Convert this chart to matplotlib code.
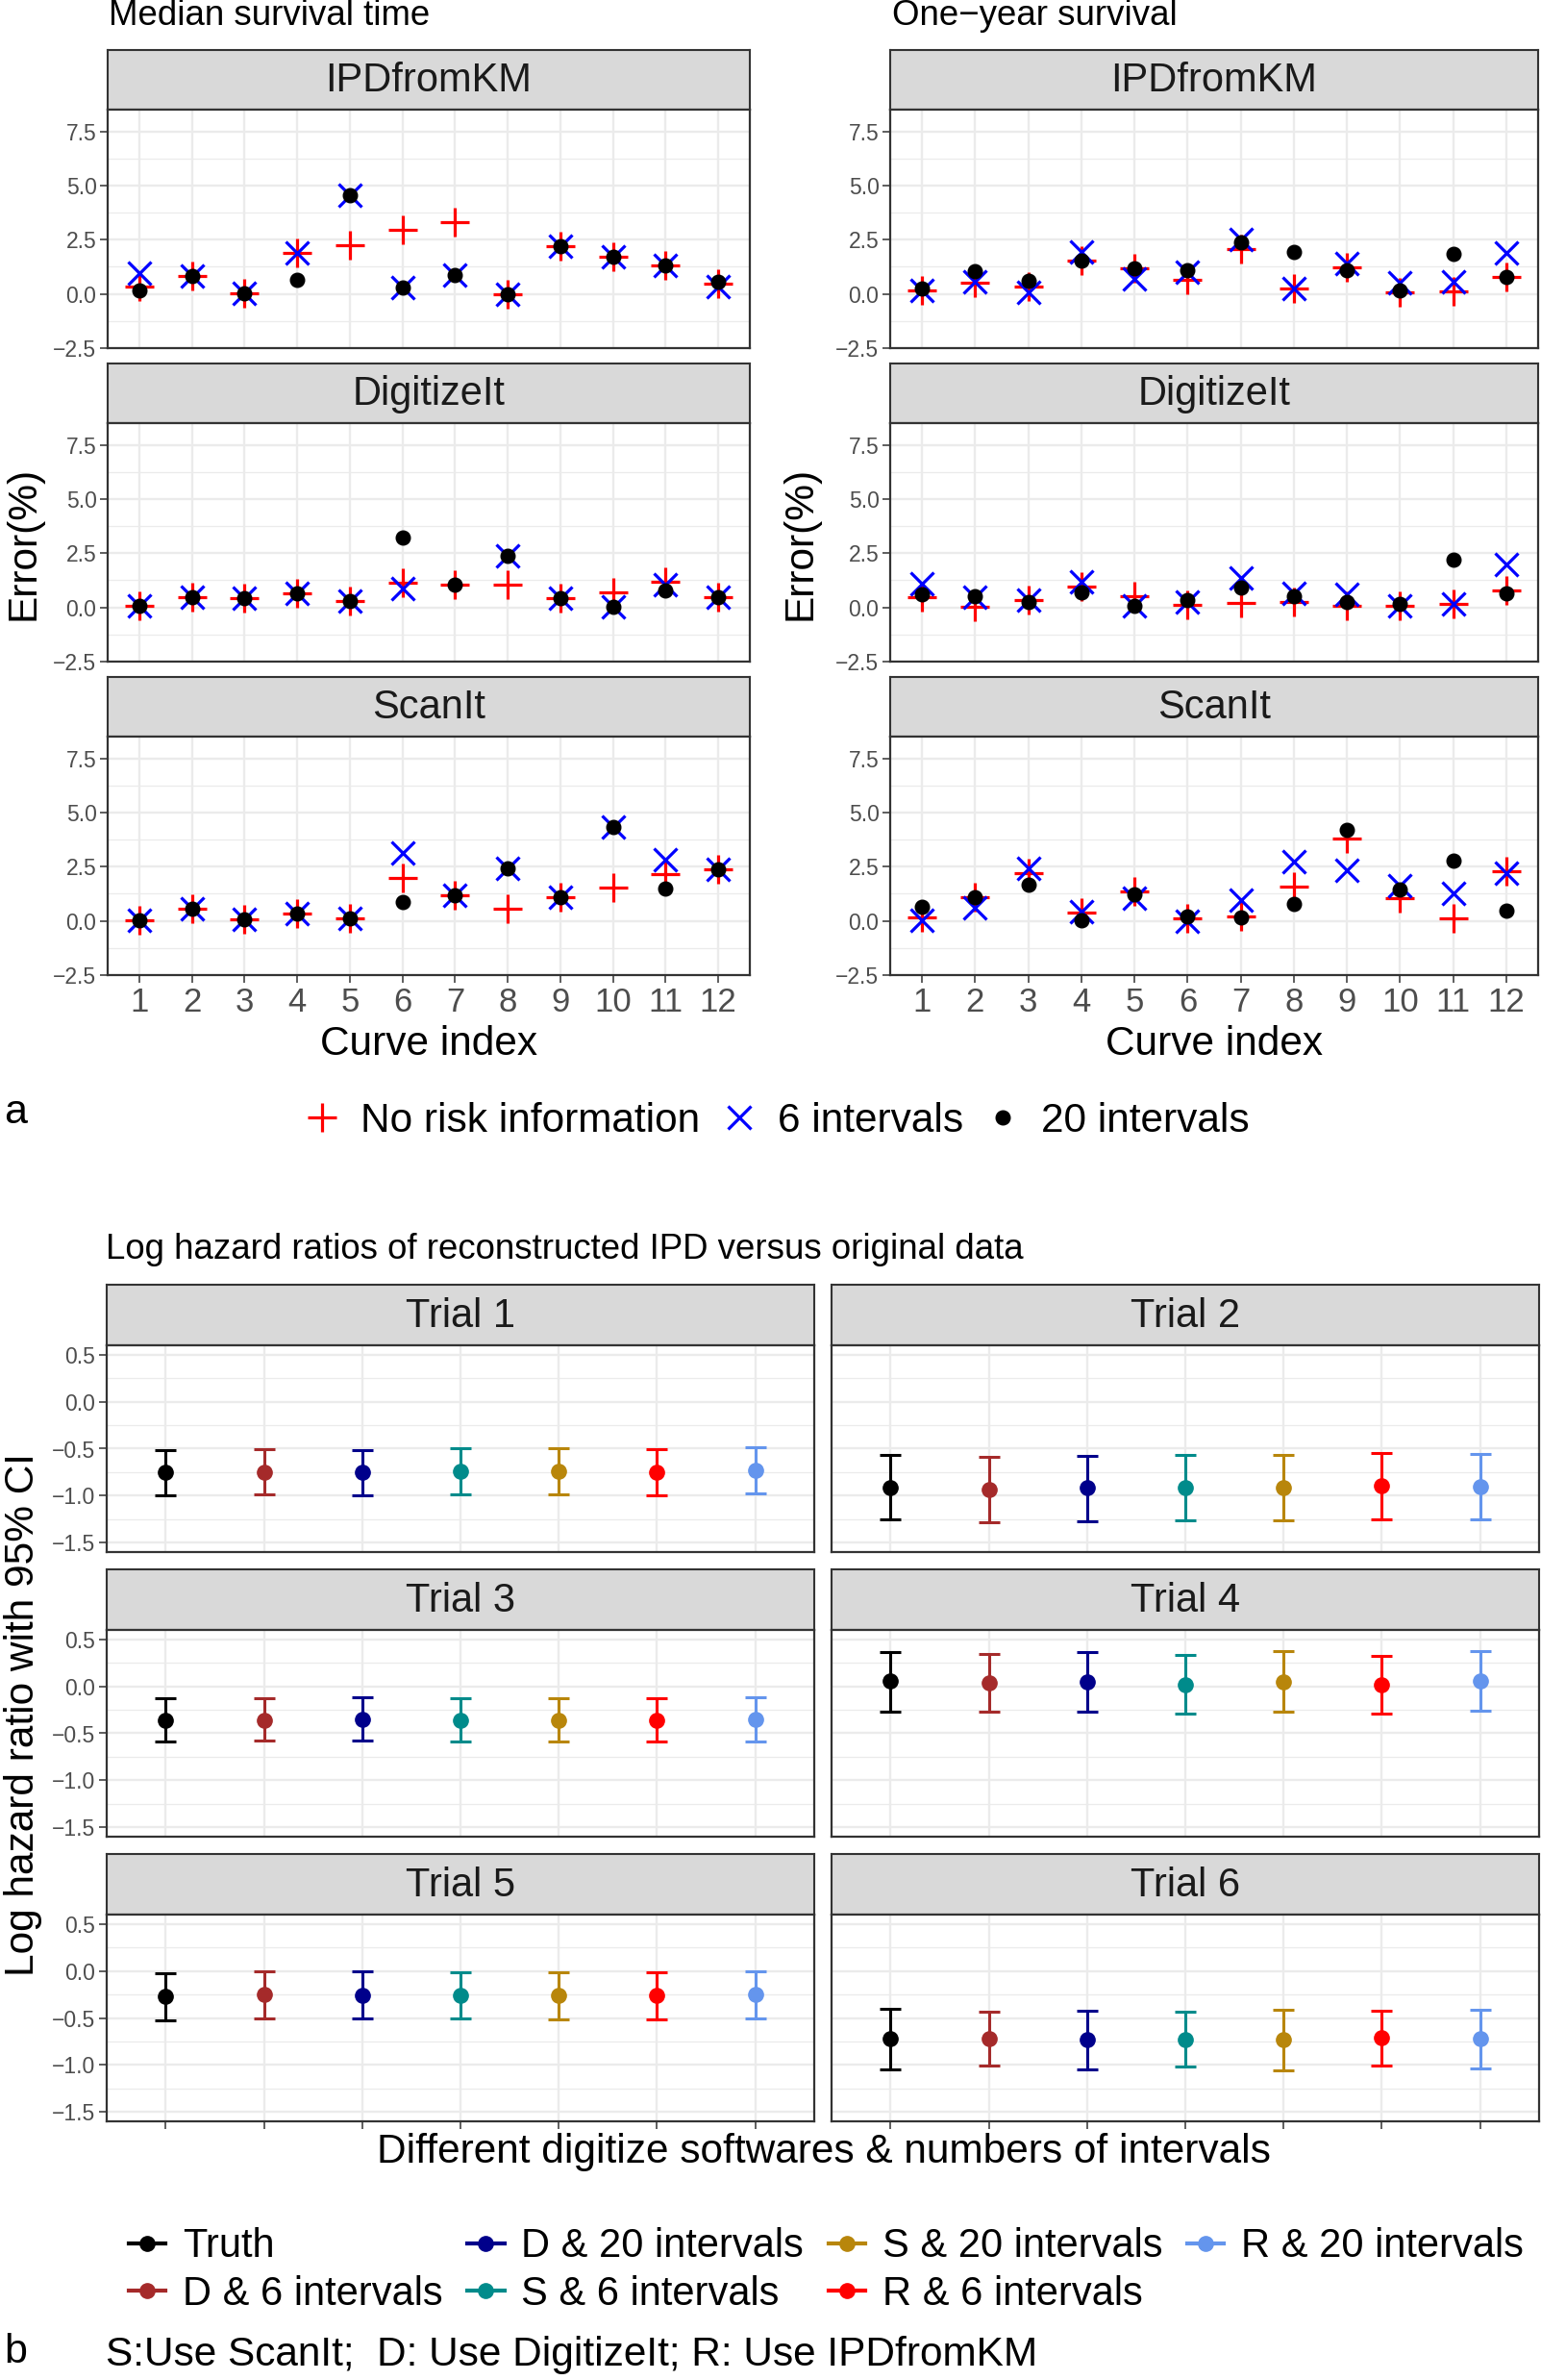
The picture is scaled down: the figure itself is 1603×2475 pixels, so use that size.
import numpy as np
import matplotlib
matplotlib.use("Agg")
import matplotlib.pyplot as plt
from matplotlib.lines import Line2D

plt.rcParams['font.family'] = ['Liberation Sans', 'DejaVu Sans']

# ---------------- data: part a (error %, curves 1..12) ----------------
curves = list(range(1, 13))
nan = np.nan

med_ipd_norisk = [0.36, 0.83, 0.03, 1.87, 2.23, 2.97, 3.33, 0.00, 2.20, 1.72, 1.32, 0.45]
med_ipd_6 = [0.94, 0.83, 0.03, 1.87, 4.55, 0.31, 0.88, 0.00, 2.20, 1.72, 1.32, 0.36]
med_ipd_20 = [0.18, 0.83, 0.03, 0.65, 4.55, 0.31, 0.88, 0.00, 2.20, 1.72, 1.32, 0.56]

med_dig_norisk = [0.09, 0.46, 0.41, 0.67, 0.31, 1.13, 1.04, 1.07, 0.41, 0.71, 1.16, 0.49]
med_dig_6 = [0.09, 0.46, 0.41, 0.67, 0.31, 0.86, nan, 2.37, 0.41, 0.03, 1.05, 0.49]
med_dig_20 = [0.09, 0.46, 0.41, 0.67, 0.31, 3.20, 1.04, 2.37, 0.41, 0.03, 0.77, 0.49]

med_scan_norisk = [0.04, 0.58, 0.06, 0.34, 0.12, 2.00, 1.17, 0.55, 1.10, 1.53, 2.14, 2.38]
med_scan_6 = [0.04, 0.58, 0.06, 0.34, 0.12, 3.15, 1.17, 2.41, 1.10, 4.31, 2.82, 2.38]
med_scan_20 = [0.04, 0.58, 0.06, 0.34, 0.12, 0.85, 1.17, 2.41, 1.10, 4.31, 1.47, 2.38]

one_ipd_norisk = [0.15, 0.50, 0.36, 1.53, 1.17, 0.64, 2.08, 0.27, 1.23, 0.06, 0.13, 0.77]
one_ipd_6 = [0.15, 0.56, 0.06, 1.92, 0.68, 1.01, 2.51, 0.27, 1.40, 0.50, 0.56, 1.90]
one_ipd_20 = [0.27, 1.05, 0.62, 1.53, 1.17, 1.08, 2.36, 1.93, 1.10, 0.18, 1.83, 0.77]

one_dig_norisk = [0.47, 0.04, 0.36, 0.96, 0.50, 0.10, 0.19, 0.25, 0.06, 0.06, 0.15, 0.79]
one_dig_6 = [1.08, 0.49, 0.36, 1.19, 0.07, 0.27, 1.38, 0.64, 0.59, 0.06, 0.15, 1.96]
one_dig_20 = [0.62, 0.53, 0.27, 0.68, 0.07, 0.34, 0.90, 0.53, 0.27, 0.18, 2.22, 0.67]

one_scan_norisk = [0.15, 1.10, 2.21, 0.40, 1.35, 0.10, 0.21, 1.59, 3.82, 1.03, 0.13, 2.29]
one_scan_6 = [0.03, 0.59, 2.44, 0.42, 1.04, 0.00, 0.98, 2.73, 2.33, 1.63, 1.29, 2.20]
one_scan_20 = [0.64, 1.08, 1.69, 0.03, 1.22, 0.21, 0.18, 0.77, 4.19, 1.44, 2.76, 0.48]

# ---------------- data: part b (log HR with 95% CI) ----------------
methods = ["Truth", "D & 6 intervals", "D & 20 intervals", "S & 6 intervals",
           "S & 20 intervals", "R & 6 intervals", "R & 20 intervals"]
method_colors = ["black", "#A52A2A", "#00008B", "#008B8B", "#B8860B", "#FF0000", "#6495ED"]

trial1_est = [-0.755, -0.752, -0.755, -0.745, -0.745, -0.755, -0.730]
trial1_lo = [-0.997, -0.986, -0.997, -0.990, -0.986, -0.997, -0.980]
trial1_hi = [-0.514, -0.507, -0.514, -0.500, -0.500, -0.510, -0.480]

trial2_est = [-0.912, -0.935, -0.918, -0.915, -0.912, -0.898, -0.905]
trial2_lo = [-1.255, -1.279, -1.269, -1.259, -1.259, -1.248, -1.255]
trial2_hi = [-0.565, -0.592, -0.575, -0.571, -0.565, -0.548, -0.561]

trial3_est = [-0.357, -0.357, -0.350, -0.357, -0.357, -0.360, -0.354]
trial3_lo = [-0.582, -0.579, -0.575, -0.582, -0.582, -0.588, -0.585]
trial3_hi = [-0.126, -0.122, -0.119, -0.122, -0.122, -0.129, -0.119]

trial4_est = [0.054, 0.037, 0.051, 0.020, 0.048, 0.020, 0.058]
trial4_lo = [-0.265, -0.269, -0.269, -0.289, -0.272, -0.286, -0.262]
trial4_hi = [0.367, 0.344, 0.364, 0.333, 0.371, 0.327, 0.374]

trial5_est = [-0.272, -0.252, -0.259, -0.259, -0.262, -0.262, -0.252]
trial5_lo = [-0.524, -0.500, -0.510, -0.510, -0.517, -0.514, -0.503]
trial5_hi = [-0.027, -0.003, -0.003, -0.014, -0.014, -0.017, -0.003]

trial6_est = [-0.721, -0.721, -0.735, -0.728, -0.735, -0.711, -0.724]
trial6_lo = [-1.044, -1.010, -1.048, -1.020, -1.054, -1.003, -1.034]
trial6_hi = [-0.405, -0.432, -0.425, -0.435, -0.415, -0.422, -0.408]

# ---------------- figure setup ----------------
W, H = 1603, 2475
fig = plt.figure(figsize=(W / 100, H / 100), dpi=100)

GRID = '#EBEBEB'
DARK = '#333333'
TICKLAB = '#4D4D4D'


def box(x0, y0, x1, y1):
    """pixel box (top-left origin) -> figure rect"""
    return [x0 / W, 1 - y1 / H, (x1 - x0) / W, (y1 - y0) / H]


def fmt(v):
    return f"{v:.1f}".replace('-', '\u2212')


def facet(x0, x1, strip_top, strip_h, panel_h, title):
    sax = fig.add_axes(box(x0, strip_top, x1, strip_top + strip_h))
    sax.set_facecolor('#D9D9D9')
    sax.set_xticks([])
    sax.set_yticks([])
    for s in sax.spines.values():
        s.set_color(DARK)
        s.set_linewidth(1.5)
    sax.text(0.5, 0.48, title, ha='center', va='center', fontsize=30,
             color='#1A1A1A', transform=sax.transAxes)
    ax = fig.add_axes(box(x0, strip_top + strip_h, x1, strip_top + strip_h + panel_h))
    for s in ax.spines.values():
        s.set_color(DARK)
        s.set_linewidth(1.6)
    ax.set_axisbelow(True)
    ax.grid(which='major', color=GRID, linewidth=1.7)
    ax.grid(which='minor', axis='y', color=GRID, linewidth=0.9)
    ax.tick_params(which='major', direction='out', length=5.8, width=1.1,
                   color=DARK, labelcolor=TICKLAB, labelsize=16.5, pad=2.5)
    ax.tick_params(which='minor', length=0)
    return ax


# ---------------- part a ----------------
top_cols = [(112, 780), (926, 1600)]
top_strip_tops = [52, 378, 704]
top_sets = [
    [("IPDfromKM", med_ipd_norisk, med_ipd_6, med_ipd_20),
     ("DigitizeIt", med_dig_norisk, med_dig_6, med_dig_20),
     ("ScanIt", med_scan_norisk, med_scan_6, med_scan_20)],
    [("IPDfromKM", one_ipd_norisk, one_ipd_6, one_ipd_20),
     ("DigitizeIt", one_dig_norisk, one_dig_6, one_dig_20),
     ("ScanIt", one_scan_norisk, one_scan_6, one_scan_20)],
]
ymaj = [-2.5, 0.0, 2.5, 5.0, 7.5]
ymin = [-1.25, 1.25, 3.75, 6.25]

for (x0, x1), sets in zip(top_cols, top_sets):
    for r, (name, norisk, six, twenty) in enumerate(sets):
        ax = facet(x0, x1, top_strip_tops[r], 62, 248, name)
        ax.plot(curves, norisk, linestyle='none', marker='+', ms=22, mew=2.3, color='#FF0000')
        ax.plot(curves, six, linestyle='none', marker='x', ms=17, mew=2.3, color='#0000FF')
        ax.plot(curves, twenty, linestyle='none', marker='o', ms=10.5, color='black')
        ax.set_xlim(0.4, 12.6)
        ax.set_ylim(-2.5, 8.5)
        ax.set_yticks(ymaj)
        ax.set_yticklabels([fmt(v) for v in ymaj])
        ax.set_yticks(ymin, minor=True)
        ax.set_xticks(curves)
        if r == 2:
            ax.set_xticklabels([str(c) for c in curves], fontsize=25, color=TICKLAB)
            ax.tick_params(axis='x', pad=3)
        else:
            ax.set_xticklabels([])
            ax.tick_params(axis='x', length=0)

fig.text(113 / W, 1 - 16 / H, "Median survival time", fontsize=26.4, ha='left', va='center')
fig.text(928 / W, 1 - 16 / H, "One\u2212year survival", fontsize=26.4, ha='left', va='center')
fig.text(446 / W, 1 - 1086 / H, "Curve index", fontsize=30.5, ha='center', va='center')
fig.text(1263 / W, 1 - 1086 / H, "Curve index", fontsize=30.5, ha='center', va='center')
fig.text(24 / W, 1 - 565 / H, "Error(%)", fontsize=30.5, rotation=90, ha='center', va='center')
fig.text(833 / W, 1 - 565 / H, "Error(%)", fontsize=30.5, rotation=90, ha='center', va='center')
fig.text(16 / W, 1 - 1157 / H, "a", fontsize=31, ha='center', va='center')

top_handles = [
    Line2D([0], [0], linestyle='none', marker='+', ms=22, mew=2.3, color='#FF0000'),
    Line2D([0], [0], linestyle='none', marker='x', ms=17, mew=2.3, color='#0000FF'),
    Line2D([0], [0], linestyle='none', marker='o', ms=10.5, color='black'),
]
fig.legend(top_handles, ["No risk information", "6 intervals", "20 intervals"],
           loc='center left', bbox_to_anchor=(316 / W, 1 - 1166 / H), ncol=3,
           frameon=False, fontsize=30.5, handlelength=0.92, handletextpad=0.48,
           columnspacing=0.5, borderpad=0, borderaxespad=0)

# ---------------- part b ----------------
pos = np.arange(1, len(methods) + 1)
bot_cols = [(111, 847), (865, 1601)]
bot_strip_tops = [1336, 1632, 1928]
trials = [
    ("Trial 1", trial1_est, trial1_lo, trial1_hi),
    ("Trial 2", trial2_est, trial2_lo, trial2_hi),
    ("Trial 3", trial3_est, trial3_lo, trial3_hi),
    ("Trial 4", trial4_est, trial4_lo, trial4_hi),
    ("Trial 5", trial5_est, trial5_lo, trial5_hi),
    ("Trial 6", trial6_est, trial6_lo, trial6_hi),
]
bmaj = [-1.5, -1.0, -0.5, 0.0, 0.5]
bmin = [-1.25, -0.75, -0.25, 0.25]

for i, (name, est, lo, hi) in enumerate(trials):
    r, c = divmod(i, 2)
    x0, x1 = bot_cols[c]
    ax = facet(x0, x1, bot_strip_tops[r], 63, 215, name)
    est = np.array(est)
    lo = np.array(lo)
    hi = np.array(hi)
    for k in range(len(methods)):
        ax.errorbar(pos[k], est[k], yerr=[[est[k] - lo[k]], [hi[k] - est[k]]],
                    fmt='o', ms=11, color=method_colors[k], ecolor=method_colors[k],
                    elinewidth=2.2, capsize=8, capthick=2.2)
    ax.set_xlim(0.4, len(methods) + 0.6)
    ax.set_ylim(-1.6, 0.6)
    ax.set_xticks(pos)
    ax.set_xticklabels([])
    ax.set_yticks(bmaj)
    ax.set_yticks(bmin, minor=True)
    if c == 0:
        ax.set_yticklabels([fmt(v) for v in bmaj])
    else:
        ax.set_yticklabels([])
        ax.tick_params(axis='y', length=0)
    if r != 2:
        ax.tick_params(axis='x', length=0)

fig.text(110 / W, 1 - 1299 / H, "Log hazard ratios of reconstructed IPD versus original data",
         fontsize=26.4, ha='left', va='center')
fig.text(24 / W, 1 - 1783 / H, "Log hazard ratio with 95% CI", fontsize=30.5, rotation=90,
         ha='center', va='center')
fig.text(857 / W, 1 - 2238 / H, "Different digitize softwares & numbers of intervals",
         fontsize=30.5, ha='center', va='center')

bot_handles = [Line2D([0], [0], color=col, lw=3, marker='o', ms=11) for col in method_colors]
fig.legend(bot_handles, methods, loc='center left', bbox_to_anchor=(134 / W, 1 - 2361 / H),
           ncol=4, frameon=False, fontsize=30, handlelength=0.92, handletextpad=0.42,
           columnspacing=0.62, labelspacing=0.22, borderpad=0, borderaxespad=0)

fig.text(16 / W, 1 - 2446 / H, "b", fontsize=31, ha='center', va='center')
fig.text(110 / W, 1 - 2449 / H, "S:Use ScanIt;  D: Use DigitizeIt; R: Use IPDfromKM",
         fontsize=30.5, ha='left', va='center')

fig.savefig("out.png", dpi=100, facecolor='white')
